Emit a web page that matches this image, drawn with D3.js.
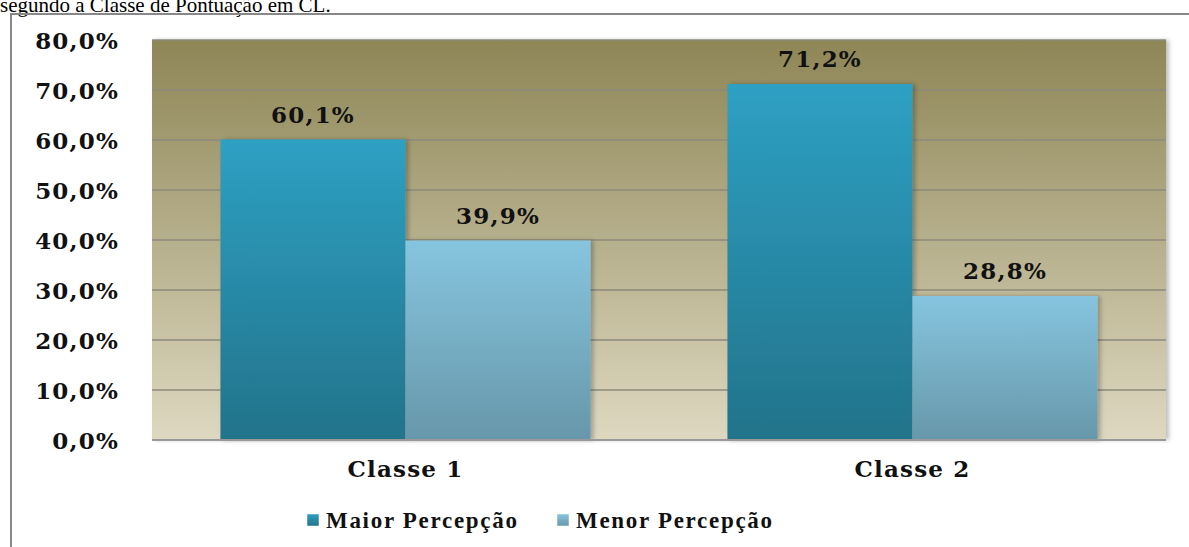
<!DOCTYPE html>
<html><head><meta charset="utf-8">
<script src="https://cdn.jsdelivr.net/npm/d3@7"></script>
<style>body{margin:0;background:#fff;}svg{display:block;}</style>
</head><body>
<script>
const categories = ["Classe 1", "Classe 2"];
const seriesNames = ["Maior Percepção", "Menor Percepção"];
const maiorValues = [60.1, 71.2];
const menorValues = [39.9, 28.8];
const yTicks = [0, 10, 20, 30, 40, 50, 60, 70, 80];

const W = 1189, H = 547;
const svg = d3.select("body").append("svg").attr("width", W).attr("height", H);
const defs = svg.append("defs");
function grad(id, c1, c2) {
  const g = defs.append("linearGradient").attr("id", id).attr("x1", 0).attr("y1", 0).attr("x2", 0).attr("y2", 1);
  g.append("stop").attr("offset", "0%").attr("stop-color", c1);
  g.append("stop").attr("offset", "100%").attr("stop-color", c2);
}
grad("bg", "#8e8656", "#ded8c1");
grad("g0", "#2ea0c3", "#22738a");
grad("g1", "#86c5df", "#6797aa");
const f = defs.append("filter").attr("id", "sh").attr("x", "-10%").attr("y", "-10%").attr("width", "130%").attr("height", "130%");
f.append("feDropShadow").attr("dx", 3).attr("dy", 0).attr("stdDeviation", 2).attr("flood-color", "#000").attr("flood-opacity", 0.25);

// caption (cut off at top, as in the source)
svg.append("text").attr("x", 0).attr("y", 12).attr("font-family", "Liberation Serif").attr("font-size", 21)
  .attr("fill", "#000").text("segundo a Classe de Pontuação em CL.");
// frame
svg.append("line").attr("x1", 11).attr("x2", W).attr("y1", 14).attr("y2", 14).attr("stroke", "#888").attr("stroke-width", 2);
svg.append("line").attr("x1", 11).attr("x2", 11).attr("y1", 13).attr("y2", H).attr("stroke", "#888").attr("stroke-width", 2);

const pL = 152, pR = 1166, pT = 40, pB = 440;
const y = d3.scaleLinear().domain([0, 80]).range([pB, pT]);
const x0 = d3.scaleBand().domain(categories).range([pL, pR]).paddingInner(0.27).paddingOuter(0.135);
const x1 = d3.scaleBand().domain([0, 1]).range([0, x0.bandwidth()]);

svg.append("rect").attr("x", pL).attr("y", pT).attr("width", pR - pL).attr("height", pB - pT)
  .attr("fill", "url(#bg)").attr("filter", "url(#sh)");

// gridlines
svg.append("g").selectAll("line").data(yTicks.filter(d => d > 0)).join("line")
  .attr("x1", pL).attr("x2", pR).attr("y1", d => y(d)).attr("y2", d => y(d))
  .attr("stroke", "#8b8a7c").attr("stroke-width", 1.5);

const fontF = "DejaVu Serif";
const FS = 23, LS = 1.2;
const fmt = d => d3.format(".1f")(d).replace(".", ",") + "%";
// y axis labels
const yAxis = d3.axisLeft(y).tickValues(yTicks).tickSize(0).tickPadding(0).tickFormat(fmt);
const ga = svg.append("g").attr("transform", `translate(119,0)`).call(yAxis);
ga.select(".domain").remove();
ga.selectAll("text").attr("font-family", fontF).attr("font-weight", "bold").attr("font-size", FS)
  .attr("letter-spacing", LS).attr("fill", "#111").attr("dy", "0.36em");

// bars
const series = [maiorValues, menorValues];
series.forEach((vals, si) => {
  const g = svg.append("g");
  g.selectAll("rect").data(vals).join("rect")
    .attr("x", (d, i) => x0(categories[i]) + x1(si))
    .attr("y", d => y(d))
    .attr("width", x1.bandwidth())
    .attr("height", d => pB - y(d))
    .attr("fill", `url(#g${si})`).attr("filter", "url(#sh)");
  g.selectAll("text").data(vals).join("text")
    .attr("x", (d, i) => x0(categories[i]) + x1(si) + x1.bandwidth() / 2)
    .attr("y", d => y(d) - 17)
    .attr("text-anchor", "middle").attr("font-family", fontF).attr("font-weight", "bold")
    .attr("font-size", FS).attr("letter-spacing", LS).attr("fill", "#111")
    .text(fmt);
});

// x axis line
svg.append("line").attr("x1", pL).attr("x2", pR).attr("y1", pB).attr("y2", pB)
  .attr("stroke", "#999").attr("stroke-width", 2);
const xAxis = d3.axisBottom(x0).tickSize(0).tickPadding(0);
const gx = svg.append("g").attr("transform", `translate(0,${pB})`).call(xAxis);
gx.select(".domain").remove();
gx.selectAll("text").attr("font-family", fontF).attr("font-weight", "bold").attr("font-size", FS)
  .attr("letter-spacing", LS).attr("fill", "#111").attr("dy", 0).attr("y", 37);

// legend
const legendX = [307, 557];
const lg = svg.append("g");
seriesNames.forEach((name, i) => {
  lg.append("rect").attr("x", legendX[i]).attr("y", 514).attr("width", 12).attr("height", 12)
    .attr("fill", `url(#g${i})`).attr("stroke", "#fff").attr("stroke-width", 0.5);
  lg.append("text").attr("x", legendX[i] + 19).attr("y", 528).attr("font-family", "Liberation Serif")
    .attr("font-weight", "bold").attr("font-size", 23).attr("letter-spacing", 1.7).attr("fill", "#111").text(name);
});
</script>
</body></html>
